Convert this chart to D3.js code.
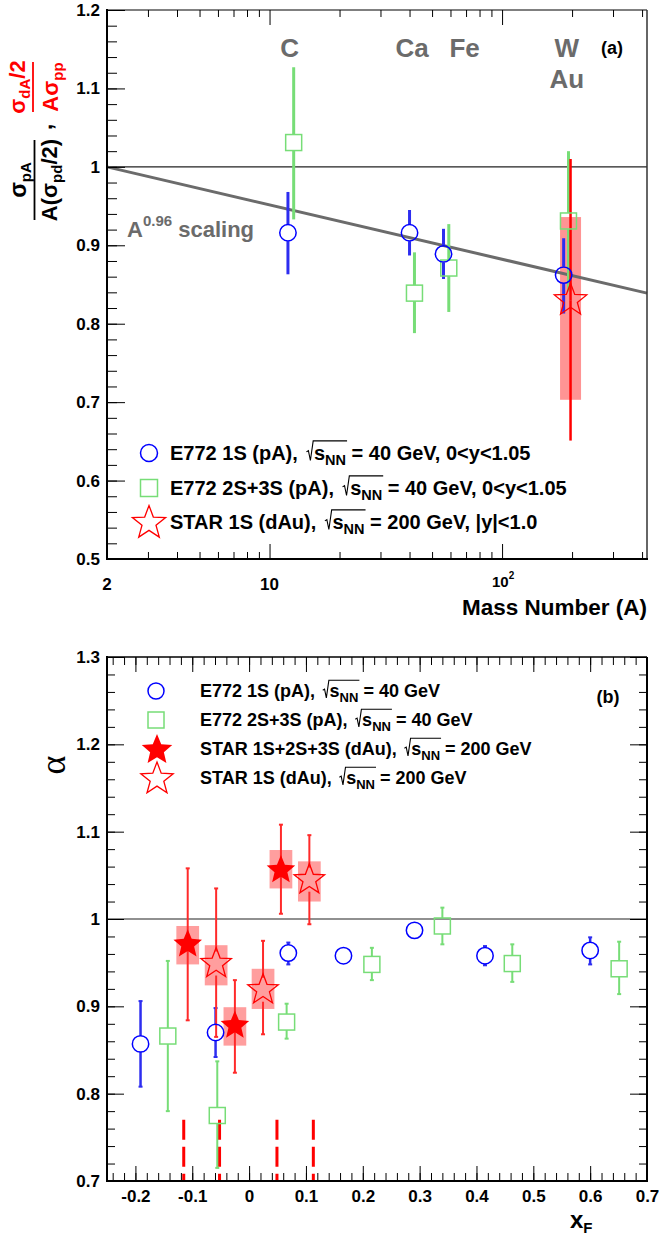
<!DOCTYPE html>
<html lang="en">
<head>
<meta charset="utf-8">
<title>Upsilon suppression vs A and xF</title>
<script src="https://cdn.jsdelivr.net/npm/d3@7"></script>
<style>
    body { margin: 0; background: #fff; }
    text { font-family: 'Liberation Sans', Arial, Helvetica, sans-serif; font-weight: bold; white-space: pre; }
</style>
</head>
<body>
<script>
// ---------- data: panel (a) ----------
var elemNames = ["C", "Ca", "Fe", "W", "Au"];
var elemLabelA = [12.2, 41, 69, 190, 190];
var elemLabelY = [1.14, 1.14, 1.14, 1.14, 1.1];

var e1sA = [12, 40, 56, 184];
var e1sR = [0.916, 0.916, 0.889, 0.862];
var e1sLo = [0.863, 0.887, 0.857, 0.813];
var e1sHi = [0.968, 0.945, 0.921, 0.909];

var e23sA = [12.7, 42, 59, 193];
var e23sR = [1.031, 0.839, 0.871, 0.931];
var e23sLo = [0.933, 0.788, 0.815, 0.841];
var e23sHi = [1.127, 0.891, 0.927, 1.020];

var star1sA = [197];
var star1sR = [0.83];
var star1sLo = [0.651];
var star1sHi = [1.01];
var star1sSysLo = [0.703];
var star1sSysHi = [0.936];

var scalingA = [2, 420];
var scalingR = [1.0, 0.839];

var topYTicks = [0.5, 0.6, 0.7, 0.8, 0.9, 1, 1.1, 1.2];
var topXMajor = [10, 100];
var topXMinor = [2, 3, 4, 5, 6, 7, 8, 9, 20, 30, 40, 50, 60, 70, 80, 90, 200, 300, 400];
var topXLabelVals = [2, 10, 100];
var topXLabels = ["2", "10", "10^2"];

// ---------- data: panel (b) ----------
var bE1sX = [-0.191, -0.059, 0.069, 0.166, 0.291, 0.415, 0.600];
var bE1sY = [0.857, 0.870, 0.961, 0.958, 0.987, 0.958, 0.964];
var bE1sLo = [0.808, 0.842, 0.948, 0.955, 0.984, 0.947, 0.948];
var bE1sHi = [0.906, 0.898, 0.973, 0.961, 0.990, 0.969, 0.979];

var bE23sX = [-0.143, -0.056, 0.066, 0.216, 0.340, 0.463, 0.651];
var bE23sY = [0.866, 0.775, 0.882, 0.948, 0.992, 0.949, 0.943];
var bE23sLo = [0.780, 0.715, 0.863, 0.930, 0.971, 0.928, 0.914];
var bE23sHi = [0.952, 0.837, 0.903, 0.967, 1.013, 0.971, 0.974];

var bStarAllX = [-0.108, -0.025, 0.056];
var bStarAllY = [0.971, 0.878, 1.056];
var bStarAllLo = [0.884, 0.824, 1.006];
var bStarAllHi = [1.058, 0.930, 1.108];
var bStarAllSysLo = [0.948, 0.855, 1.035];
var bStarAllSysHi = [0.992, 0.899, 1.079];

var bStar1sX = [-0.058, 0.0245, 0.106];
var bStar1sY = [0.949, 0.919, 1.045];
var bStar1sLo = [0.865, 0.868, 0.994];
var bStar1sHi = [1.035, 0.975, 1.096];
var bStar1sSysLo = [0.924, 0.897, 1.020];
var bStar1sSysHi = [0.970, 0.943, 1.066];
var sysHalfWidth = 0.02;

var binEdges = [-0.115, -0.052, 0.049, 0.113];
var binEdgeTop = 0.77;

var botYTicks = [0.7, 0.8, 0.9, 1, 1.1, 1.2, 1.3];
var botXTicks = [-0.2, -0.1, 0, 0.1, 0.2, 0.3, 0.4, 0.5, 0.6, 0.7];

// ---------- setup ----------
var W = 659, H = 1237;
var blue = "#0000ff", blueBar = "#2d2df0", green = "#77dd77", red = "#ff0000", gray = "#6b6b6b";

var svg = d3.select("body").append("svg")
    .attr("width", W)
    .attr("height", H);

var xTop = d3.scaleLog().domain([2, 420]).range([107, 647]);
var yTop = d3.scaleLinear().domain([0.5, 1.2]).range([559, 10]);
var xBot = d3.scaleLinear().domain([-0.25, 0.7]).range([107, 647]);
var yBot = d3.scaleLinear().domain([0.7, 1.3]).range([1181, 657]);

function starPath(R, ratio) {
    var pts = [];
    for (var i = 0; i < 10; i++) {
        var a = -Math.PI / 2 + i * Math.PI / 5;
        var rr = (i % 2) ? R * ratio : R;
        pts.push((rr * Math.cos(a)).toFixed(2) + "," + (rr * Math.sin(a)).toFixed(2));
    }
    return "M" + pts.join("L") + "Z";
}

// draws pieces of text side by side, returns width
function rich(g, parts, base) {
    var x = 0;
    parts.forEach(function (p) {
        if (p.rad) {
            var x0 = x + 0.15 * base;
            var start = x0 + 0.38 * base;
            var inner = g.append("g");
            var w = rich(inner, p.rad, base);
            inner.attr("transform", "translate(" + start + ",0)");
            g.append("path")
                .attr("d", "M" + x0 + "," + (-0.38 * base) + " L" + (x0 + 0.1 * base) + "," + (-0.44 * base) +
                    " L" + (x0 + 0.2 * base) + "," + (0.05 * base) + " L" + (x0 + 0.34 * base) + "," + (-0.93 * base) +
                    " H" + (start + w + 1))
                .attr("fill", "none")
                .attr("stroke", "#000")
                .attr("stroke-width", 1.1);
            x = start + w;
        } else {
            var t = g.append("text")
                .attr("x", x)
                .attr("y", p.dy || 0)
                .attr("font-size", p.size || base)
                .text(p.t);
            x += t.node().getComputedTextLength();
        }
    });
    return x;
}

function errBars(g, xs, ys, lo, hi, xs_, ys_, gap, color, width, cap) {
    xs.forEach(function (v, i) {
        var px = xs_(v), py = ys_(ys[i]);
        var segs = [[ys_(hi[i]), py - gap], [py + gap, ys_(lo[i])]];
        segs.forEach(function (s) {
            if (s[1] > s[0]) {
                g.append("line")
                    .attr("x1", px).attr("x2", px)
                    .attr("y1", s[0]).attr("y2", s[1])
                    .attr("stroke", color)
                    .attr("stroke-width", width);
            }
        });
        if (cap) {
            [ys_(hi[i]), ys_(lo[i])].forEach(function (cy) {
                if (Math.abs(cy - py) <= gap) return;
                g.append("line")
                    .attr("x1", px - cap).attr("x2", px + cap)
                    .attr("y1", cy).attr("y2", cy)
                    .attr("stroke", color)
                    .attr("stroke-width", 2);
            });
        }
    });
}

function styleAxis(sel, size) {
    sel.select(".domain").remove();
    sel.attr("font-size", size)
        .attr("font-family", "'Liberation Sans', Arial, sans-serif")
        .attr("fill", "#000");
    sel.selectAll("line").attr("stroke", "#000");
}

function fmt(d) {
    if (d === 0) return "0";
    if (d === 1) return "1";
    return d.toFixed(1);
}

/* ================= PANEL (a) ================= */
var pa = svg.append("g");

// systematic box
star1sA.forEach(function (a, i) {
    pa.append("rect")
        .attr("x", xTop(a) - 10.5)
        .attr("y", yTop(star1sSysHi[i]))
        .attr("width", 21)
        .attr("height", yTop(star1sSysLo[i]) - yTop(star1sSysHi[i]))
        .attr("fill", "#ff0000")
        .attr("opacity", 0.42);
});

// unity line
pa.append("line")
    .attr("x1", 107).attr("x2", 647)
    .attr("y1", yTop(1)).attr("y2", yTop(1))
    .attr("stroke", "#222").attr("stroke-width", 1.2);

// scaling line
pa.append("path")
    .datum(scalingA.map(function (a, i) { return [a, scalingR[i]]; }))
    .attr("d", d3.line().x(function (d) { return xTop(d[0]); }).y(function (d) { return yTop(d[1]); }))
    .attr("stroke", gray)
    .attr("stroke-width", 3)
    .attr("fill", "none");

errBars(pa, e23sA, e23sR, e23sLo, e23sHi, xTop, yTop, 8, green, 3, 0);
errBars(pa, e1sA, e1sR, e1sLo, e1sHi, xTop, yTop, 8.5, blueBar, 3, 0);
errBars(pa, star1sA, star1sR, star1sLo, star1sHi, xTop, yTop, 0, red, 2.5, 0);

e23sA.forEach(function (a, i) {
    pa.append("rect")
        .attr("x", xTop(a) - 8).attr("y", yTop(e23sR[i]) - 8)
        .attr("width", 16).attr("height", 16)
        .attr("fill", "none").attr("stroke", green).attr("stroke-width", 1.5);
});
e1sA.forEach(function (a, i) {
    pa.append("circle")
        .attr("cx", xTop(a)).attr("cy", yTop(e1sR[i])).attr("r", 8.2)
        .attr("fill", "none").attr("stroke", blue).attr("stroke-width", 1.5);
});
star1sA.forEach(function (a, i) {
    pa.append("path")
        .attr("d", starPath(17, 0.42))
        .attr("transform", "translate(" + xTop(a) + "," + yTop(star1sR[i]) + ")")
        .attr("fill", "none").attr("stroke", red).attr("stroke-width", 1.3);
});

// element labels
elemNames.forEach(function (n, i) {
    pa.append("text")
        .attr("x", xTop(elemLabelA[i]))
        .attr("y", yTop(elemLabelY[i]))
        .attr("text-anchor", "middle")
        .attr("font-size", 26)
        .attr("fill", gray)
        .text(n);
});
pa.append("text").attr("x", 612).attr("y", 54).attr("text-anchor", "middle")
    .attr("font-size", 18).text("(a)");

// A^0.96 scaling
var sc = pa.append("g").attr("transform", "translate(127,237)").attr("fill", gray);
rich(sc, [{ t: "A", size: 22 }, { t: "0.96", size: 15, dy: -11 }, { t: " scaling", size: 22 }], 22);

// legend (a)
var legA = [
    { y: 453, pre: "E772 1S (pA), ", post: " = 40 GeV, 0<y<1.05" },
    { y: 488, pre: "E772 2S+3S (pA), ", post: " = 40 GeV, 0<y<1.05" },
    { y: 522, pre: "STAR 1S (dAu), ", post: " = 200 GeV, |y|<1.0" }
];
legA.forEach(function (l, i) {
    var g = pa.append("g").attr("transform", "translate(170," + (l.y + 6.5) + ")");
    rich(g, [{ t: l.pre }, { rad: [{ t: "s" }, { t: "NN", size: 14.5, dy: 5 }] }, { t: l.post }], 20);
});
pa.append("circle").attr("cx", 149).attr("cy", 453).attr("r", 8.5)
    .attr("fill", "none").attr("stroke", blue).attr("stroke-width", 1.5);
pa.append("rect").attr("x", 140.5).attr("y", 479.5).attr("width", 17).attr("height", 17)
    .attr("fill", "none").attr("stroke", green).attr("stroke-width", 1.5);
pa.append("path").attr("d", starPath(17.5, 0.42)).attr("transform", "translate(149,523)")
    .attr("fill", "none").attr("stroke", red).attr("stroke-width", 1.3);

// axes (a)
var ay = pa.append("g").attr("transform", "translate(107,0)")
    .call(d3.axisLeft(yTop).tickValues(d3.range(0.5, 1.2001, 0.02).map(function (v) { return +v.toFixed(2); }))
        .tickSize(-10).tickFormat(""));
styleAxis(ay, 17);
var ay2 = pa.append("g").attr("transform", "translate(107,0)")
    .call(d3.axisLeft(yTop).tickValues(topYTicks).tickSize(-18).tickPadding(7).tickFormat(fmt));
styleAxis(ay2, 17);

[[559, d3.axisBottom], [10, d3.axisTop]].forEach(function (p) {
    var g1 = pa.append("g").attr("transform", "translate(0," + p[0] + ")")
        .call(p[1](xTop).tickValues(topXMinor).tickSize(-7).tickFormat(""));
    styleAxis(g1, 17);
    var g2 = pa.append("g").attr("transform", "translate(0," + p[0] + ")")
        .call(p[1](xTop).tickValues(topXMajor).tickSize(-15).tickFormat(""));
    styleAxis(g2, 17);
});

topXLabelVals.forEach(function (v, i) {
    var lab = topXLabels[i];
    if (lab.indexOf("^") > 0) {
        var g = pa.append("g");
        var w = rich(g, [{ t: lab.split("^")[0], size: 15 }, { t: lab.split("^")[1], size: 10, dy: -8 }], 15);
        g.attr("transform", "translate(" + (xTop(v) - w / 2 + 1) + ",587)");
    } else {
        pa.append("text").attr("x", xTop(v)).attr("y", 590).attr("text-anchor", "middle")
            .attr("font-size", 17).text(lab);
    }
});
pa.append("text").attr("x", 647).attr("y", 615).attr("text-anchor", "end")
    .attr("font-size", 22.5).text("Mass Number (A)");

// frame (a)
pa.append("line").attr("x1", 107).attr("x2", 647).attr("y1", 10).attr("y2", 10).attr("stroke", "#000").attr("stroke-width", 1);
pa.append("line").attr("x1", 647).attr("x2", 647).attr("y1", 10).attr("y2", 559).attr("stroke", "#333").attr("stroke-width", 1.5);
pa.append("line").attr("x1", 107).attr("x2", 107).attr("y1", 9).attr("y2", 560).attr("stroke", "#000").attr("stroke-width", 2);
pa.append("line").attr("x1", 106).attr("x2", 648).attr("y1", 559).attr("y2", 559).attr("stroke", "#000").attr("stroke-width", 2);

// y title (a), rotated
var yt = pa.append("g").attr("transform", "translate(0,220) rotate(-90)");
function centered(g, parts, base, cx, y, color) {
    var sub = g.append("g").attr("fill", color);
    var w = rich(sub, parts, base);
    sub.attr("transform", "translate(" + (cx - w / 2) + "," + y + ")");
}
centered(yt, [{ t: "\u03c3", size: 23 }, { t: "pA", size: 15, dy: 5 }], 22, 40, 26, "#000");
yt.append("line").attr("x1", 0).attr("x2", 80).attr("y1", 34.5).attr("y2", 34.5).attr("stroke", "#000").attr("stroke-width", 1.8);
centered(yt, [{ t: "A(\u03c3", size: 22 }, { t: "pd", size: 15, dy: 5 }, { t: "/2)", size: 22 }], 22, 40, 57, "#000");
yt.append("text").attr("x", 90).attr("y", 52).attr("font-size", 22).text(",");
centered(yt, [{ t: "\u03c3", size: 22 }, { t: "dA", size: 15, dy: 5 }, { t: "/2", size: 22 }], 22, 133, 25, red);
yt.append("line").attr("x1", 108).attr("x2", 158).attr("y1", 33).attr("y2", 33).attr("stroke", red).attr("stroke-width", 1.8);
centered(yt, [{ t: "A\u03c3", size: 22 }, { t: "pp", size: 15, dy: 5 }], 22, 133, 58, red);

/* ================= PANEL (b) ================= */
var pb = svg.append("g");

function sysBoxes(xs, lo, hi) {
    xs.forEach(function (v, i) {
        pb.append("rect")
            .attr("x", xBot(v - sysHalfWidth))
            .attr("y", yBot(hi[i]))
            .attr("width", xBot(v + sysHalfWidth) - xBot(v - sysHalfWidth))
            .attr("height", yBot(lo[i]) - yBot(hi[i]))
            .attr("fill", "#ff0000")
            .attr("opacity", 0.38);
    });
}
sysBoxes(bStarAllX, bStarAllSysLo, bStarAllSysHi);
sysBoxes(bStar1sX, bStar1sSysLo, bStar1sSysHi);

pb.append("line")
    .attr("x1", 107).attr("x2", 647)
    .attr("y1", yBot(1)).attr("y2", yBot(1))
    .attr("stroke", "#222").attr("stroke-width", 1.2);

// bin edges
binEdges.forEach(function (v) {
    pb.append("line")
        .attr("x1", xBot(v)).attr("x2", xBot(v))
        .attr("y1", yBot(binEdgeTop)).attr("y2", yBot(0.7))
        .attr("stroke", red).attr("stroke-width", 3)
        .attr("stroke-dasharray", "20,7");
});

errBars(pb, bE23sX, bE23sY, bE23sLo, bE23sHi, xBot, yBot, 8, green, 2, 2);
errBars(pb, bE1sX, bE1sY, bE1sLo, bE1sHi, xBot, yBot, 8.2, blueBar, 2.5, 2);
errBars(pb, bStarAllX, bStarAllY, bStarAllLo, bStarAllHi, xBot, yBot, 0, "#ff2a2a", 2, 2);
errBars(pb, bStar1sX, bStar1sY, bStar1sLo, bStar1sHi, xBot, yBot, 12, "#ff2a2a", 2, 2);

bE23sX.forEach(function (v, i) {
    pb.append("rect")
        .attr("x", xBot(v) - 8).attr("y", yBot(bE23sY[i]) - 8)
        .attr("width", 16).attr("height", 16)
        .attr("fill", "none").attr("stroke", green).attr("stroke-width", 1.5);
});
bE1sX.forEach(function (v, i) {
    pb.append("circle")
        .attr("cx", xBot(v)).attr("cy", yBot(bE1sY[i])).attr("r", 8.2)
        .attr("fill", "none").attr("stroke", blue).attr("stroke-width", 1.5);
});
bStarAllX.forEach(function (v, i) {
    pb.append("path").attr("d", starPath(15, 0.45))
        .attr("transform", "translate(" + xBot(v) + "," + yBot(bStarAllY[i]) + ")")
        .attr("fill", red);
});
bStar1sX.forEach(function (v, i) {
    pb.append("path").attr("d", starPath(16, 0.42))
        .attr("transform", "translate(" + xBot(v) + "," + yBot(bStar1sY[i]) + ")")
        .attr("fill", "none").attr("stroke", red).attr("stroke-width", 1.3);
});

// legend (b)
var legB = [
    { y: 691, pre: "E772 1S (pA), ", post: " = 40 GeV" },
    { y: 720, pre: "E772 2S+3S (pA), ", post: " = 40 GeV" },
    { y: 749, pre: "STAR 1S+2S+3S (dAu), ", post: " = 200 GeV" },
    { y: 778, pre: "STAR 1S (dAu), ", post: " = 200 GeV" }
];
legB.forEach(function (l) {
    var g = pb.append("g").attr("transform", "translate(200," + (l.y + 6) + ")");
    rich(g, [{ t: l.pre }, { rad: [{ t: "s" }, { t: "NN", size: 13, dy: 5 }] }, { t: l.post }], 18);
});
pb.append("circle").attr("cx", 156).attr("cy", 691).attr("r", 8)
    .attr("fill", "none").attr("stroke", blue).attr("stroke-width", 1.5);
pb.append("rect").attr("x", 148).attr("y", 712).attr("width", 16).attr("height", 16)
    .attr("fill", "none").attr("stroke", green).attr("stroke-width", 1.5);
pb.append("path").attr("d", starPath(16, 0.45)).attr("transform", "translate(157,750)").attr("fill", red);
pb.append("path").attr("d", starPath(17, 0.42)).attr("transform", "translate(157,779)")
    .attr("fill", "none").attr("stroke", red).attr("stroke-width", 1.3);

pb.append("text").attr("x", 608).attr("y", 703).attr("text-anchor", "middle")
    .attr("font-size", 18).text("(b)");

// axes (b)
var yMinorB = d3.range(0.7, 1.3001, 0.02).map(function (v) { return +v.toFixed(2); });
var xMinorB = d3.range(-0.24, 0.7001, 0.02).map(function (v) { return +v.toFixed(2); });
[[107, d3.axisLeft], [647, d3.axisRight]].forEach(function (p, k) {
    var g1 = pb.append("g").attr("transform", "translate(" + p[0] + ",0)")
        .call(p[1](yBot).tickValues(yMinorB).tickSize(-8).tickFormat(""));
    styleAxis(g1, 17);
    var g2 = pb.append("g").attr("transform", "translate(" + p[0] + ",0)")
        .call(p[1](yBot).tickValues(botYTicks).tickSize(-17).tickPadding(7).tickFormat(k === 0 ? fmt : ""));
    styleAxis(g2, 17);
});
[[1181, d3.axisBottom], [657, d3.axisTop]].forEach(function (p, k) {
    var g1 = pb.append("g").attr("transform", "translate(0," + p[0] + ")")
        .call(p[1](xBot).tickValues(xMinorB).tickSize(-8).tickFormat(""));
    styleAxis(g1, 17);
    var g2 = pb.append("g").attr("transform", "translate(0," + p[0] + ")")
        .call(p[1](xBot).tickValues(botXTicks).tickSize(-15).tickPadding(9).tickFormat(k === 0 ? fmt : ""));
    styleAxis(g2, 17);
});

// frame (b)
pb.append("line").attr("x1", 107).attr("x2", 647).attr("y1", 657).attr("y2", 657).attr("stroke", "#000").attr("stroke-width", 1.3);
pb.append("line").attr("x1", 647).attr("x2", 647).attr("y1", 657).attr("y2", 1182).attr("stroke", "#000").attr("stroke-width", 2);
pb.append("line").attr("x1", 107).attr("x2", 107).attr("y1", 656).attr("y2", 1182).attr("stroke", "#000").attr("stroke-width", 2);
pb.append("line").attr("x1", 106).attr("x2", 648).attr("y1", 1181).attr("y2", 1181).attr("stroke", "#000").attr("stroke-width", 2);

// titles (b)
var xf = pb.append("g").attr("transform", "translate(570,1228)");
rich(xf, [{ t: "x", size: 24 }, { t: "F", size: 15, dy: 5 }], 24);
pb.append("text")
    .attr("transform", "translate(65,765) rotate(-90)")
    .attr("text-anchor", "middle")
    .style("font-family", "'Liberation Serif', 'DejaVu Serif', serif")
    .style("font-weight", "normal")
    .attr("font-size", 36)
    .text("\u03b1");
</script>
</body>
</html>
